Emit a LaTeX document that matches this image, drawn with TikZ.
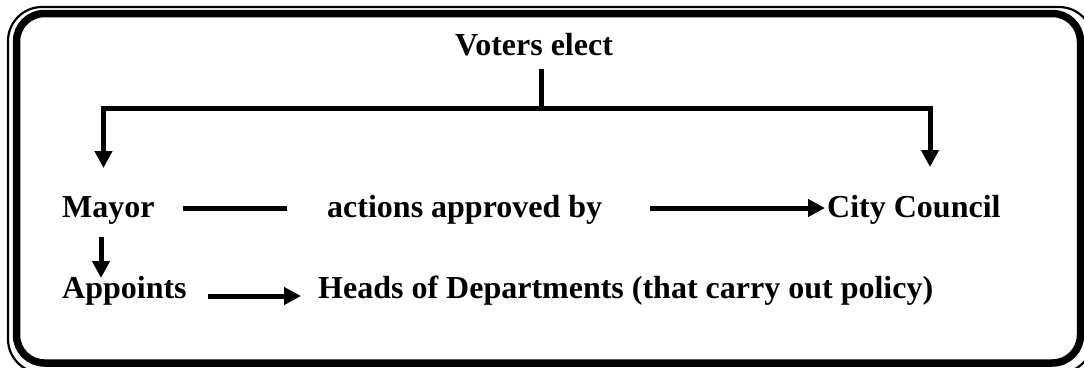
\documentclass[tikz,border=0pt]{standalone}
\usepackage{fontspec}
\setmainfont{Liberation Serif}
\usetikzlibrary{arrows.meta}
\tikzset{
  lbl/.style={inner sep=0pt, anchor=base west, font=\bfseries\fontsize{32}{36}\selectfont},
  conn/.style={line width=5pt},
  arr/.style={line width=5pt, -{Triangle[length=17pt,width=17pt]}},
  frameThick/.style={line width=7.5pt, rounded corners=28pt},
  frameThin/.style={line width=2.2pt, rounded corners=34pt}
}
\begin{document}
\begin{tikzpicture}[x=1pt,y=-1pt]
\clip (0,0) rectangle (1084,367);
\fill[white] (0,0) rectangle (1084,367);
% frame
\draw[frameThin] (8,7) rectangle (1093,373);
\draw[frameThick] (16.5,13.5) rectangle (1080.5,363);
% texts
\node[lbl, anchor=base] (voters) at (534,55) {Voters elect};
\node[lbl] (mayor) at (62,217) {Mayor};
\node[lbl] (actions) at (327,217) {actions approved by};
\node[lbl] (council) at (827,217) {City Council};
\node[lbl] (appoints) at (62,298) {Appoints};
\node[lbl] (heads) at (318,298) {Heads of Departments (that carry out policy)};
% coordinates
\coordinate (stemtop) at (541.5,69);
\coordinate (stembot) at (541.5,108);
\coordinate (lt) at (103.5,108);
\coordinate (rt) at (930,108);
\coordinate (lend) at (103.5,168);
\coordinate (rend) at (930,167);
\coordinate (m1) at (183,208);
\coordinate (m2) at (287,208);
\coordinate (a1) at (650,208);
\coordinate (a2) at (825,208);
\coordinate (d1) at (101,237);
\coordinate (d2) at (101,278);
\coordinate (p1) at (208,296);
\coordinate (p2) at (301,296);
% connectors
\draw[conn] (stemtop) -- (stembot);
\draw[conn, line cap=rect] (lt) -- (rt);
\draw[arr] (lt) -- (lend);
\draw[arr] (rt) -- (rend);
\draw[conn] (m1) -- (m2);
\draw[arr] (a1) -- (a2);
\draw[arr] (d1) -- (d2);
\draw[arr] (p1) -- (p2);
\end{tikzpicture}
\end{document}
